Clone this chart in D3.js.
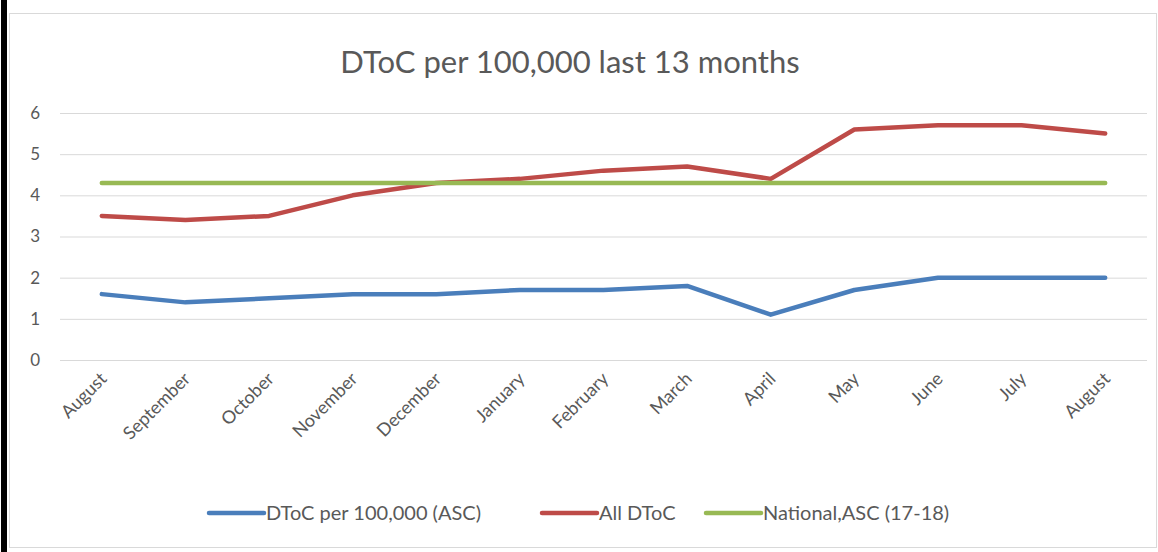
<!DOCTYPE html>
<html>
<head>
<meta charset="utf-8">
<script src="https://cdn.jsdelivr.net/npm/d3@7"></script>
<style>
  html, body { margin: 0; padding: 0; background: #ffffff; }
  svg { display: block; font-family: Lato, "Open Sans", sans-serif; }
</style>
</head>
<body>
<svg id="chart" width="1158" height="552"></svg>
<script>
// Months covered by the chart (13 months, August to August)
const months = ["August", "September", "October", "November", "December", "January",
  "February", "March", "April", "May", "June", "July", "August"];

// Series values
const dtocAsc = [1.6, 1.4, 1.5, 1.6, 1.6, 1.7, 1.7, 1.8, 1.1, 1.7, 2.0, 2.0, 2.0];
const allDtoc = [3.5, 3.4, 3.5, 4.0, 4.3, 4.4, 4.6, 4.7, 4.4, 5.6, 5.7, 5.7, 5.5];
const nationalAsc = [4.3, 4.3, 4.3, 4.3, 4.3, 4.3, 4.3, 4.3, 4.3, 4.3, 4.3, 4.3, 4.3];

const seriesNames = ["DToC per 100,000 (ASC)", "All DToC", "National,ASC (17-18)"];
const yTicks = [0, 1, 2, 3, 4, 5, 6];
const titleText = "DToC per 100,000 last 13 months";

const colors = ["#4a7ebb", "#be4b48", "#98b954"];
const series = [dtocAsc, allDtoc, nationalAsc];

const svg = d3.select("#chart");
const W = 1158, H = 552;
const textColor = "#595959";

// Left dark edge and chart frame
svg.append("rect").attr("x", 1).attr("y", 0).attr("width", 6).attr("height", H).attr("fill", "#000");
svg.append("rect").attr("x", 9.5).attr("y", 13.5).attr("width", 1147).attr("height", 534)
  .attr("fill", "#fff").attr("stroke", "#d9d9d9").attr("stroke-width", 1);

const plot = { left: 60, right: 1147, top: 113, bottom: 360 };

const x = d3.scaleBand().domain(d3.range(months.length)).range([plot.left, plot.right]);
const y = d3.scaleLinear().domain([0, 6]).range([plot.bottom, plot.top]);

// Title
svg.append("text").attr("x", 570).attr("y", 73).attr("text-anchor", "middle")
  .attr("fill", textColor).style("font-size", "31px").text(titleText);

// Horizontal gridlines and y labels via axis
const yAxis = svg.append("g").attr("transform", `translate(${plot.left},0)`)
  .call(d3.axisLeft(y).tickValues(yTicks).tickSize(-(plot.right - plot.left)).tickPadding(20).tickFormat(d3.format("d")));
yAxis.select(".domain").remove();
yAxis.selectAll(".tick line").attr("stroke", "#d9d9d9").attr("stroke-width", 1);
yAxis.selectAll(".tick text").attr("fill", textColor).style("font-size", "17px")
  .style("font-family", "Lato, sans-serif");

// X axis labels, rotated
const xAxis = svg.append("g").attr("transform", `translate(0,${plot.bottom})`)
  .call(d3.axisBottom(x).tickSize(0).tickFormat(i => months[i]));
xAxis.select(".domain").remove();
xAxis.selectAll(".tick text")
  .attr("fill", textColor).style("font-size", "18px").style("font-family", "Lato, sans-serif")
  .attr("text-anchor", "end").attr("dy", null).attr("y", 0)
  .attr("transform", "translate(6,20) rotate(-45)");

// Lines
const line = d3.line().x((d, i) => x(i) + x.bandwidth() / 2).y(d => y(d));
series.forEach((s, k) => {
  svg.append("path").datum(s).attr("d", line)
    .attr("fill", "none").attr("stroke", colors[k]).attr("stroke-width", 4.5)
    .attr("stroke-linejoin", "round").attr("stroke-linecap", "round");
});

// Legend
const legendX = [209, 542, 706];
const legend = svg.append("g");
seriesNames.forEach((name, k) => {
  const g = legend.append("g").attr("transform", `translate(${legendX[k]},513)`);
  g.append("line").attr("x1", 0).attr("x2", 55).attr("y1", 0).attr("y2", 0)
    .attr("stroke", colors[k]).attr("stroke-width", 4.5).attr("stroke-linecap", "round");
  g.append("text").attr("x", 57).attr("y", 0).attr("dy", "0.35em").attr("fill", textColor)
    .style("font-size", "20px").text(name);
});
</script>
</body>
</html>
